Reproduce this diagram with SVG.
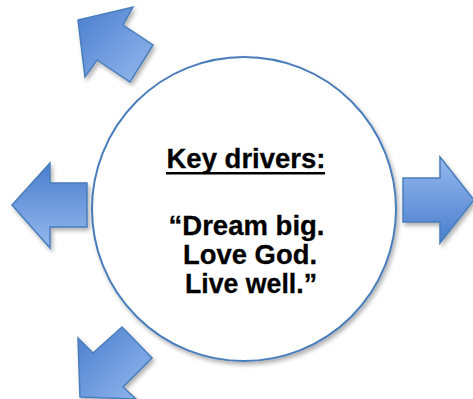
<svg xmlns="http://www.w3.org/2000/svg" width="473" height="399" viewBox="0 0 473 399">
<style>
.arrow{stroke:#4a7ebb;stroke-width:1.5;stroke-linejoin:miter;filter:url(#sh)}
.t{font-family:"Liberation Sans",Arial,sans-serif;font-weight:bold;font-size:27px;fill:#000;text-anchor:middle;stroke:#000;stroke-width:0.3}
</style>
<defs>
<filter id="sh" x="-20%" y="-20%" width="150%" height="150%">
<feDropShadow dx="2" dy="3" stdDeviation="2" flood-color="#000" flood-opacity="0.3"/>
</filter>
<linearGradient id="gDown" x1="0" y1="0" x2="0" y2="1">
<stop offset="0" stop-color="#4a7dcd"/><stop offset="1" stop-color="#95b9ee"/>
</linearGradient>
<linearGradient id="gUp" x1="0" y1="0" x2="0" y2="1">
<stop offset="0" stop-color="#95b9ee"/><stop offset="1" stop-color="#4a7dcd"/>
</linearGradient>
<linearGradient id="gDiag" x1="0" y1="0" x2="1" y2="1">
<stop offset="0" stop-color="#4a7dcd"/><stop offset="1" stop-color="#95b9ee"/>
</linearGradient>
</defs>
<g id="center-circle">
<circle cx="244" cy="209" r="152" fill="#fff" stroke="#4a7ebb" stroke-width="2" filter="url(#sh)"/>
<text class="t" x="246" y="168" textLength="159" lengthAdjust="spacingAndGlyphs">Key drivers:</text>
<rect x="166" y="172" width="159" height="2.5" fill="#000"/>
<text class="t" x="246.5" y="235" textLength="156" lengthAdjust="spacingAndGlyphs">“Dream big.</text>
<text class="t" x="250" y="264" textLength="134" lengthAdjust="spacingAndGlyphs">Love God.</text>
<text class="t" x="251" y="293" textLength="132" lengthAdjust="spacingAndGlyphs">Live well.”</text>
</g>
<g id="arrows">
<g id="arrow-upleft"><polygon class="arrow" fill="url(#gDiag)" points="78,20 133,7 123,25 153,45 130,82 97,60 85,77"/></g>
<g id="arrow-left"><polygon class="arrow" fill="url(#gDown)" points="12,205 50,163 50,183 87,183 87,227 50,227 50,248"/></g>
<g id="arrow-right"><polygon class="arrow" fill="url(#gUp)" points="403,178 440,178 440,157 474,200 440,243 440,222 403,222"/></g>
<g id="arrow-downleft"><polygon class="arrow" fill="url(#gDiag)" points="78,338 93,353 122,327 152,358 123,387 136,399 80,397"/></g>
</g>
</svg>
